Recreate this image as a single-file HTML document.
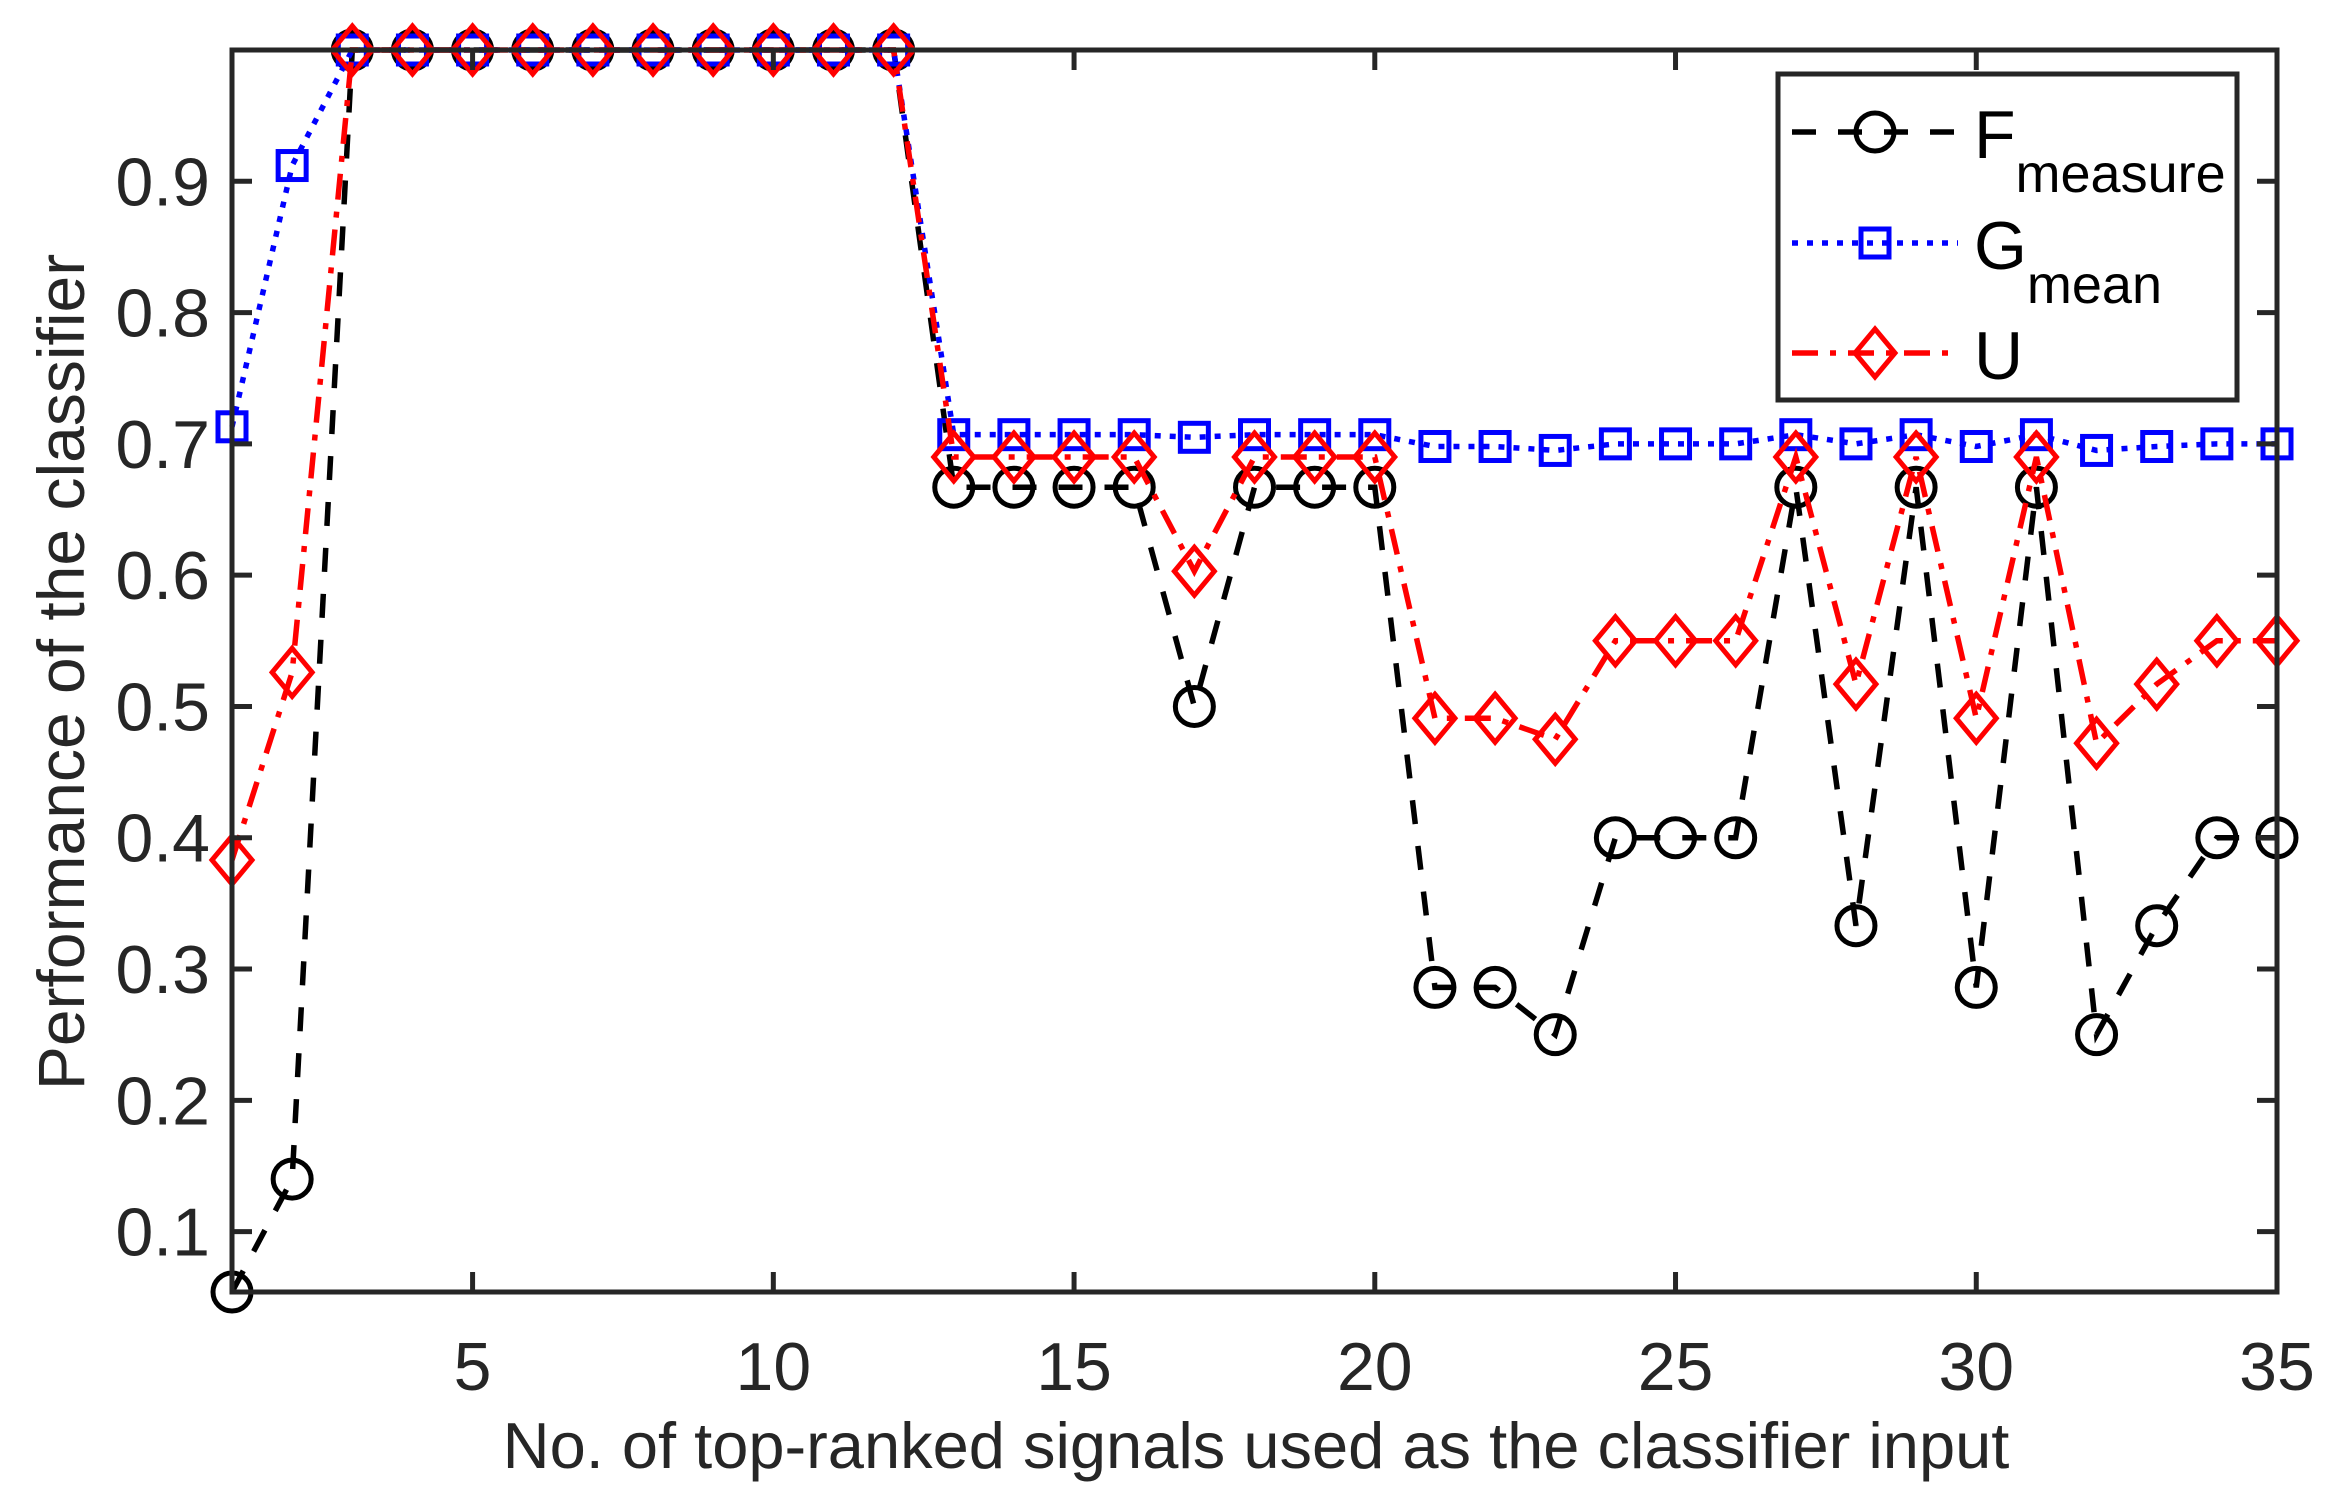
<!DOCTYPE html>
<html><head><meta charset="utf-8"><style>
html,body{margin:0;padding:0;background:#fff;}
svg{display:block;font-family:"Liberation Sans",Arial,sans-serif;}
</style></head><body>
<svg id="chart" width="2331" height="1497" viewBox="0 0 2331 1497" xmlns="http://www.w3.org/2000/svg">
<rect width="2331" height="1497" fill="#fff"/>
<g id="series"></g>
<g id="axes"></g>
<text x="1256" y="1468" font-size="65" text-anchor="middle" fill="#262626">No. of top-ranked signals used as the classifier input</text>
<text transform="translate(84,672) rotate(-90)" font-size="66" text-anchor="middle" fill="#262626">Performance of the classifier</text>
<g id="legend"></g>
</svg>
<script>
const categories=[1,2,3,4,5,6,7,8,9,10,11,12,13,14,15,16,17,18,19,20,21,22,23,24,25,26,27,28,29,30,31,32,33,34,35];
const fMeasure=[0.054,0.14,1,1,1,1,1,1,1,1,1,1,0.667,0.667,0.667,0.667,0.5,0.667,0.667,0.667,0.286,0.286,0.25,0.4,0.4,0.4,0.667,0.333,0.667,0.286,0.667,0.25,0.333,0.4,0.4];
const gMean=[0.713,0.912,1,1,1,1,1,1,1,1,1,1,0.707,0.707,0.707,0.707,0.705,0.707,0.707,0.707,0.698,0.698,0.695,0.70,0.70,0.70,0.707,0.70,0.707,0.698,0.707,0.695,0.698,0.70,0.70];
const uValues=[0.383,0.526,1,1,1,1,1,1,1,1,1,1,0.69,0.69,0.69,0.69,0.603,0.69,0.69,0.69,0.491,0.491,0.475,0.55,0.55,0.55,0.69,0.517,0.69,0.491,0.69,0.472,0.517,0.55,0.55];
const xTicks=[5,10,15,20,25,30,35];
const yTicks=[0.1,0.2,0.3,0.4,0.5,0.6,0.7,0.8,0.9];
const yTickLabels=["0.1","0.2","0.3","0.4","0.5","0.6","0.7","0.8","0.9"];

const NS="http://www.w3.org/2000/svg";
const L=232,R=2277,T=50,B=1292,xMin=1,xMax=35,yMin=0.054,yMax=1;
const xs=v=>L+(v-xMin)/(xMax-xMin)*(R-L);
const ys=v=>B-(v-yMin)/(yMax-yMin)*(B-T);
function mk(tag,attrs,parent){const e=document.createElementNS(NS,tag);for(const k in attrs)e.setAttribute(k,attrs[k]);parent.appendChild(e);return e;}
const series=document.getElementById('series'),axes=document.getElementById('axes'),legend=document.getElementById('legend');

function marker(type,x,y,color,parent){
  let m;
  if(type==='circle') m=mk('circle',{cx:x,cy:y,r:19,fill:'none',stroke:color,'stroke-width':5},parent);
  else if(type==='square') m=mk('rect',{x:x-14,y:y-14,width:28,height:28,fill:'none',stroke:color,'stroke-width':5},parent);
  else m=mk('polygon',{points:`${x},${y-24} ${x+20},${y} ${x},${y+24} ${x-20},${y}`,fill:'none',stroke:color,'stroke-width':5},parent);
  return m;
}
const defs=[
 {name:'f-measure',vals:fMeasure,color:'#000',dash:'24 22',m:'circle'},
 {name:'g-mean',vals:gMean,color:'#0000ff',dash:'6 9',m:'square'},
 {name:'u',vals:uValues,color:'#ff0000',dash:'26 12 6 12',m:'diamond'}
];
defs.forEach(d=>{
  const g=mk('g',{},series);
  
  
  const pts=categories.map((c,i)=>xs(c)+','+ys(d.vals[i])).join(' ');
  const line=mk('polyline',{points:pts,fill:'none',stroke:d.color,'stroke-width':5.5,'stroke-dasharray':d.dash},g);
  
  
  categories.forEach((c,i)=>{
    const m=marker(d.m,xs(c),ys(d.vals[i]),d.color,g);
    
    
  });
});

const box=mk('rect',{x:L,y:T,width:R-L,height:B-T,fill:'none',stroke:'#262626','stroke-width':5},axes);


xTicks.forEach(t=>{
  const x=xs(t);
  mk('line',{x1:x,y1:B,x2:x,y2:B-20,stroke:'#262626','stroke-width':5},axes);
  mk('line',{x1:x,y1:T,x2:x,y2:T+20,stroke:'#262626','stroke-width':5},axes);
  const lb=mk('text',{x:x,y:1390,'font-size':68,'text-anchor':'middle',fill:'#262626'},axes);
  lb.textContent=String(t);
  
  
});
yTicks.forEach((t,i)=>{
  const y=ys(t);
  mk('line',{x1:L,y1:y,x2:L+20,y2:y,stroke:'#262626','stroke-width':5},axes);
  mk('line',{x1:R,y1:y,x2:R-20,y2:y,stroke:'#262626','stroke-width':5},axes);
  const lb=mk('text',{x:L-22,y:y+24,'font-size':68,'text-anchor':'end',fill:'#262626'},axes);
  lb.textContent=yTickLabels[i];
  
  
});

const lr=mk('rect',{x:1778,y:74,width:459,height:326,fill:'#fff',stroke:'#262626','stroke-width':5},legend);


const ly=[132,243,353];
const labs=[['F','measure'],['G','mean'],['U','']];
defs.forEach((d,i)=>{
  const g=mk('g',{},legend);
  
  
  mk('line',{x1:1792,y1:ly[i],x2:1958,y2:ly[i],stroke:d.color,'stroke-width':5.5,'stroke-dasharray':d.dash},g);
  marker(d.m,1875,ly[i],d.color,g);
  const t=mk('text',{x:1974,y:ly[i]+26,'font-size':68,fill:'#000'},g);
  t.textContent=labs[i][0];
  if(labs[i][1]){const s=mk('tspan',{dy:34,'font-size':54},t);s.textContent=labs[i][1];}
});
</script>
</body></html>
